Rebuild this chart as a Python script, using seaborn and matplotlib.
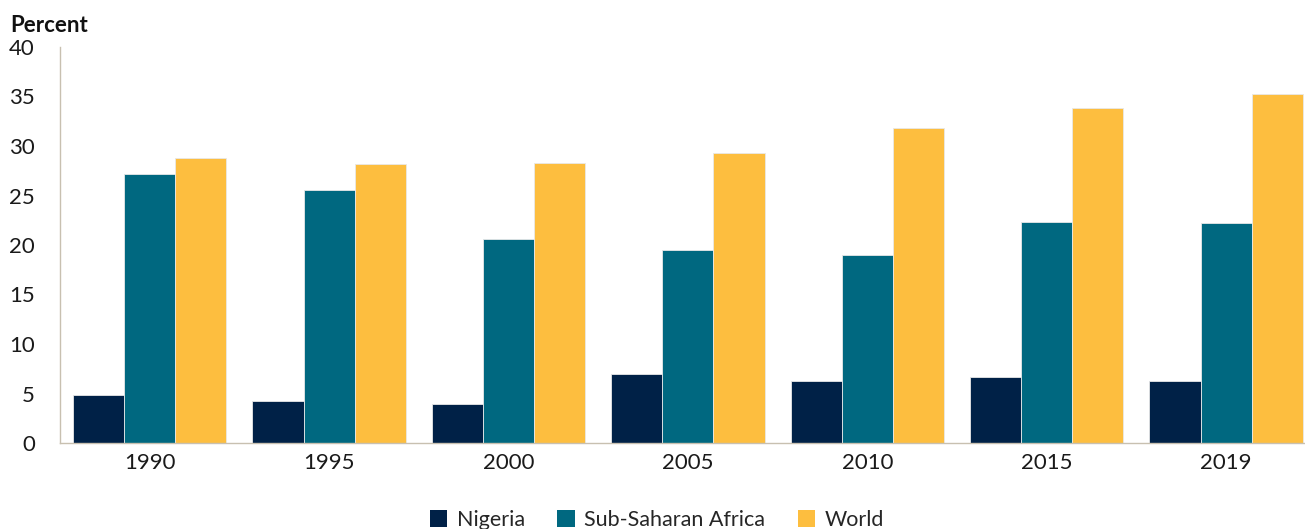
import matplotlib
matplotlib.use("Agg")
import matplotlib.pyplot as plt
import seaborn as sns
import pandas as pd
from matplotlib.patches import Patch

years = ["1990", "1995", "2000", "2005", "2010", "2015", "2019"]
nigeria = [4.85, 4.25, 3.95, 7.0, 6.3, 6.65, 6.3]
ssa = [27.2, 25.55, 20.6, 19.5, 19.0, 22.3, 22.2]
world = [28.8, 28.2, 28.3, 29.3, 31.8, 33.8, 35.3]
series = ["Nigeria", "Sub-Saharan Africa", "World"]
colors = ["#002147", "#006880", "#FDBE3F"]

df = pd.DataFrame({
    "year": years * 3,
    "value": nigeria + ssa + world,
    "series": [series[0]] * 7 + [series[1]] * 7 + [series[2]] * 7,
})

sns.set_style("white")
plt.rcParams["font.family"] = ["Lato", "DejaVu Sans"]

fig = plt.figure(figsize=(13.05, 5.29), dpi=100)
ax = fig.add_axes([60 / 1305, 86 / 529, 1245 / 1305, 396 / 529])

sns.barplot(data=df, x="year", y="value", hue="series", palette=colors,
            hue_order=series, order=years, width=0.855, ax=ax, saturation=1,
            edgecolor="#e8e8e8", linewidth=0.6, legend=False)

ax.set_ylim(0, 40)
ax.set_xlim(-0.5, 6.44)
ax.set_yticks(range(0, 41, 5))
ax.set_xlabel("")
ax.set_ylabel("")
for s in ["top", "right"]:
    ax.spines[s].set_visible(False)
for s in ["left", "bottom"]:
    ax.spines[s].set_color("#c8c0b0")
    ax.spines[s].set_linewidth(1.0)
ax.tick_params(axis="both", length=0, labelsize=16, colors="#1a1a1a")
ax.tick_params(axis="y", pad=18)
ax.tick_params(axis="x", pad=7)

fig.text(10 / 1305, 1 - 25 / 529, "Percent", fontsize=16, fontweight="bold",
         va="center", ha="left", color="#111111")

handles = [Patch(facecolor=c, edgecolor="none") for c in colors]
fig.legend(handles, series, loc="center", bbox_to_anchor=(657 / 1305, 1 - 520 / 529),
           ncol=3, frameon=False, fontsize=15.5, handlelength=0.8, handleheight=0.8,
           handletextpad=0.45, columnspacing=1.5, borderaxespad=0)

fig.savefig("out.png", dpi=100)
